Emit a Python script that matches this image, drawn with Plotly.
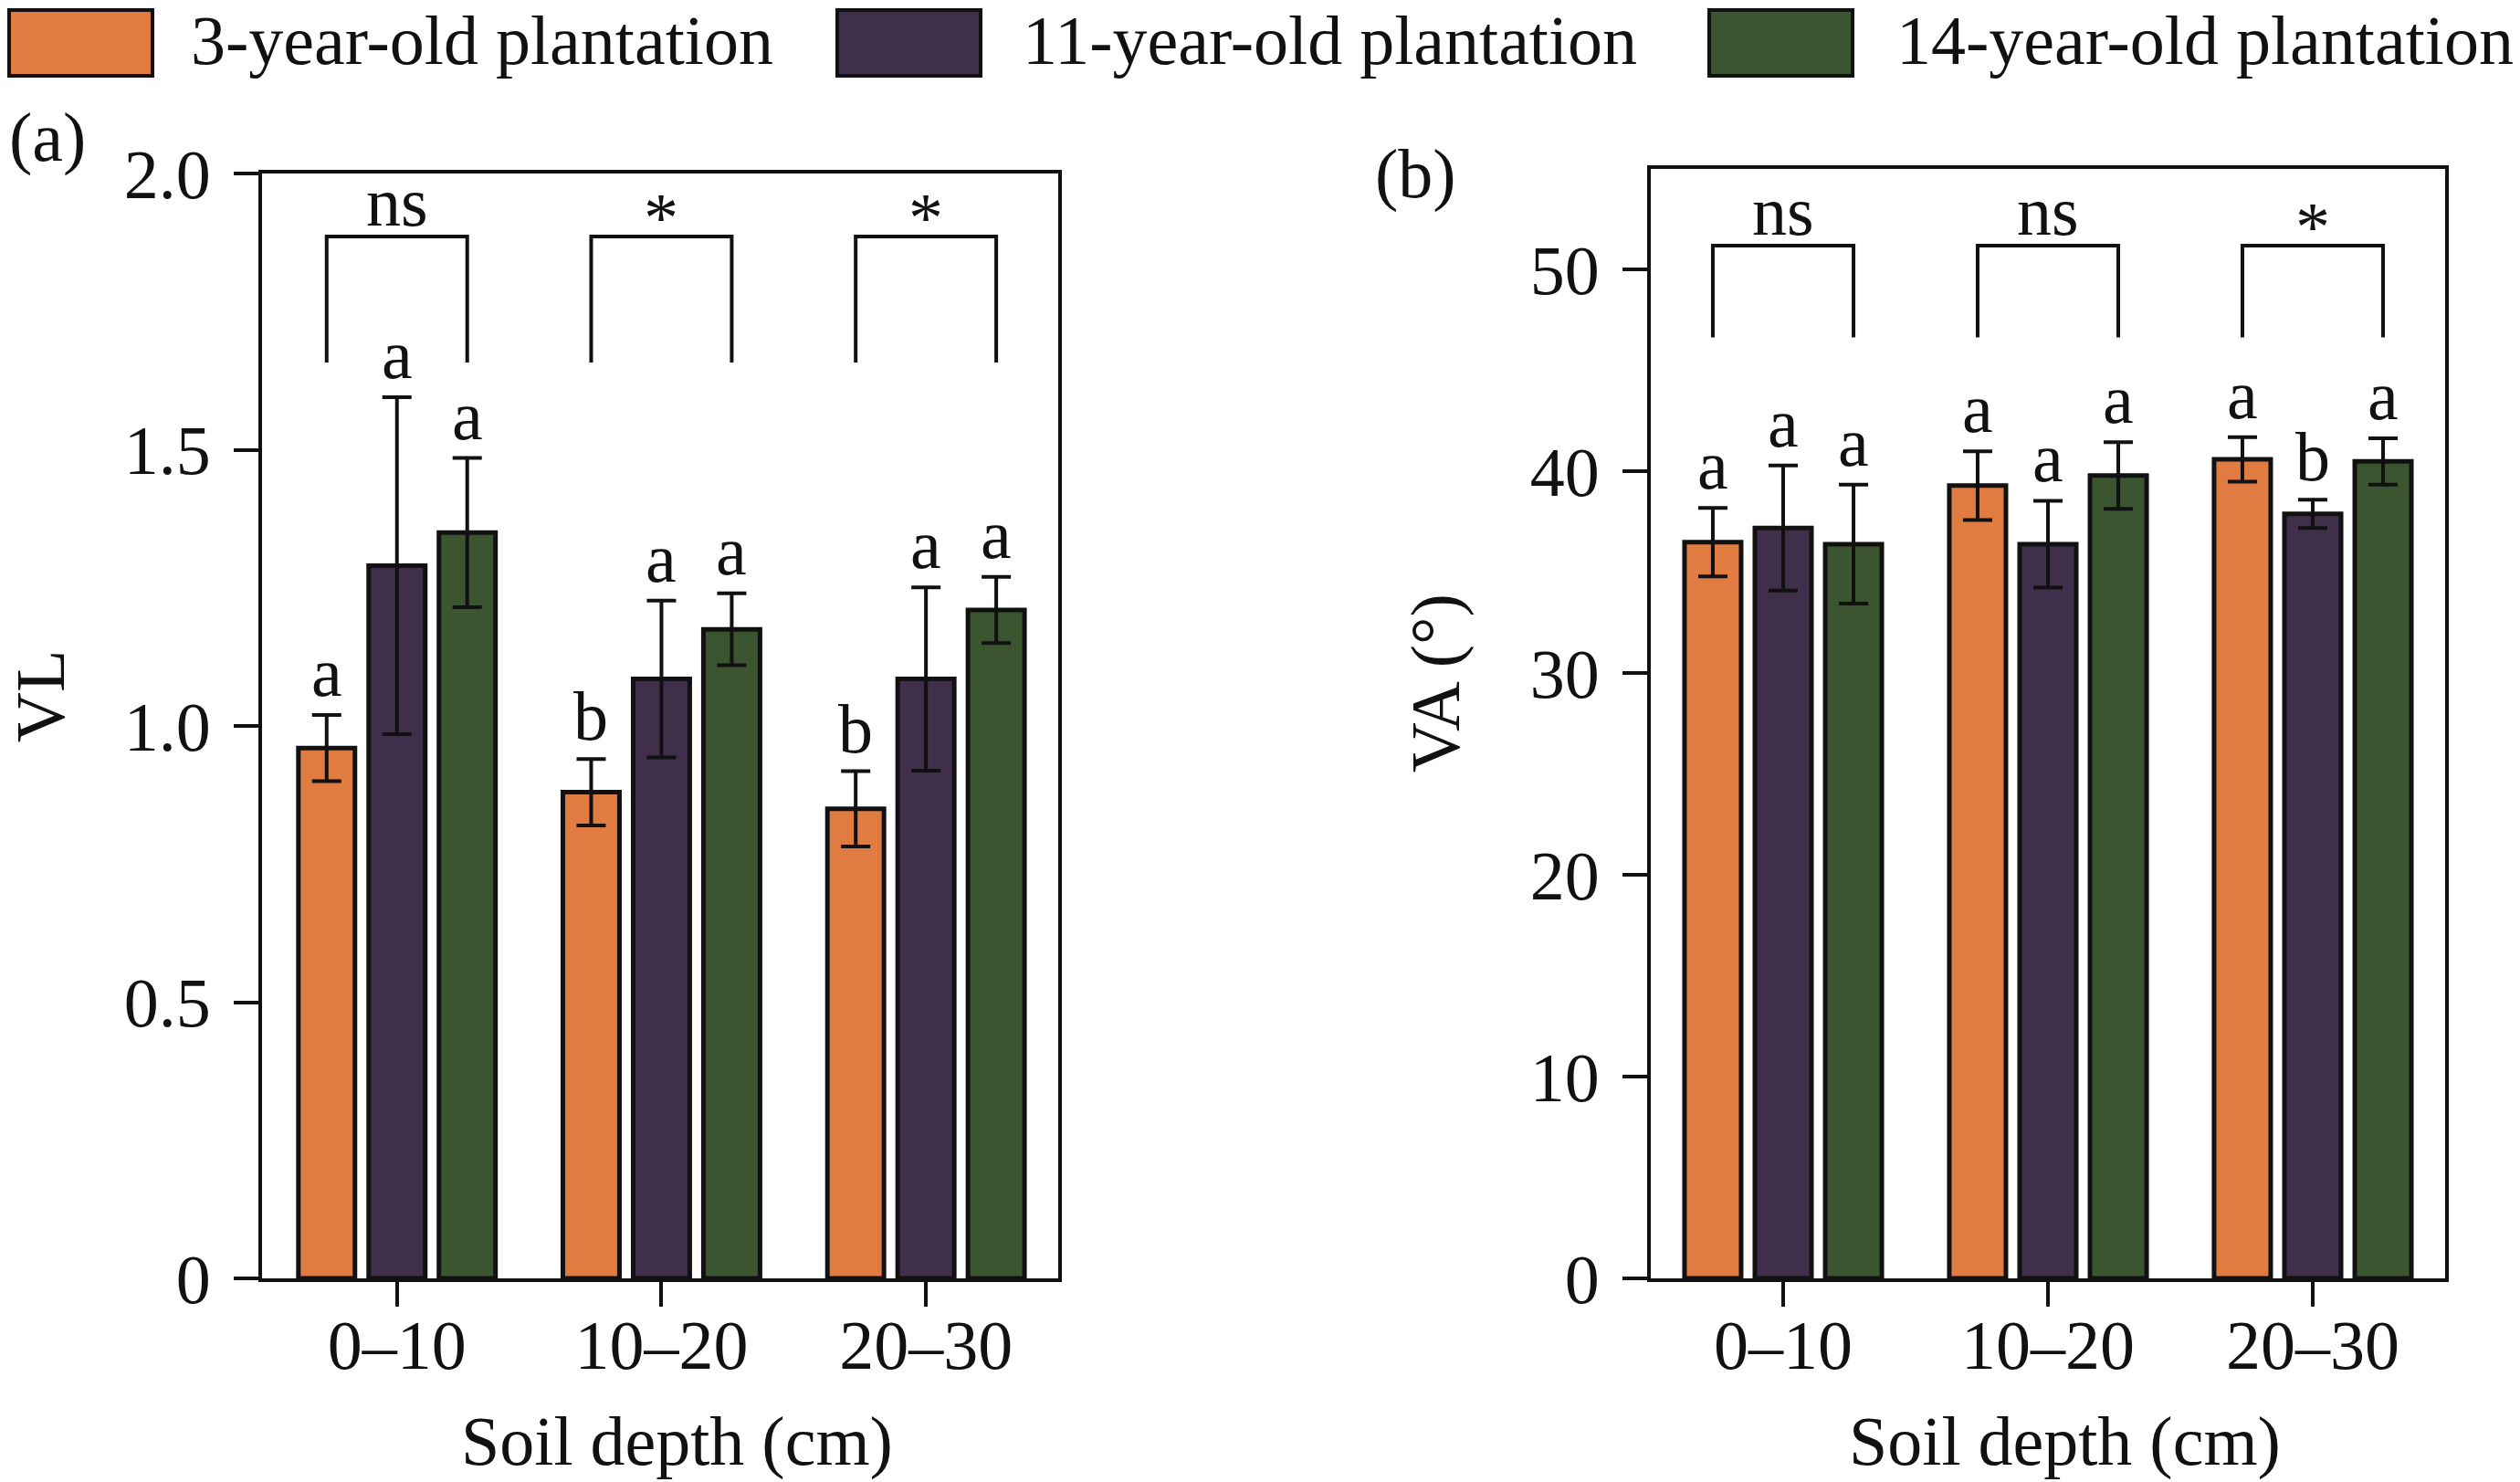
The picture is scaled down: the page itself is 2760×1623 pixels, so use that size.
import plotly.graph_objects as go

# categories and series
depths = ["0–10", "10–20", "20–30"]
series_names = ["3-year-old plantation", "11-year-old plantation", "14-year-old plantation"]
colors = ["#E07B42", "#3F2F4B", "#3B5530"]

# (a) VL means / SE / letters
vl_3yr = [0.96, 0.88, 0.85]
vl_11yr = [1.29, 1.085, 1.085]
vl_14yr = [1.35, 1.175, 1.21]
vl_3yr_err = [0.06, 0.06, 0.068]
vl_11yr_err = [0.305, 0.142, 0.166]
vl_14yr_err = [0.135, 0.065, 0.06]
vl_3yr_let = ["a", "b", "b"]
vl_11yr_let = ["a", "a", "a"]
vl_14yr_let = ["a", "a", "a"]
vl_sig = ["ns", "*", "*"]

# (b) VA means / SE / letters
va_3yr = [36.5, 39.3, 40.6]
va_11yr = [37.2, 36.4, 37.9]
va_14yr = [36.4, 39.8, 40.5]
va_3yr_err = [1.7, 1.7, 1.1]
va_11yr_err = [3.1, 2.15, 0.7]
va_14yr_err = [2.95, 1.65, 1.15]
va_3yr_let = ["a", "a", "a"]
va_11yr_let = ["a", "a", "b"]
va_14yr_let = ["a", "a", "a"]
va_sig = ["ns", "ns", "*"]

W, H = 2760, 1623
OFF = 8  # default page margin of the html body
FONT = "Liberation Serif"
FS = 76
INK = "#111111"
BARGAP = 0.203
SLOT = (1 - BARGAP) / 3


def px(v):
    return (v - OFF) / W


def py(v):
    return 1 - (v - OFF) / H


fig = go.Figure()
annotations = []
shapes = []

panels = [
    dict(xa="x", ya="y", means=[vl_3yr, vl_11yr, vl_14yr],
         errs=[vl_3yr_err, vl_11yr_err, vl_14yr_err],
         lets=[vl_3yr_let, vl_11yr_let, vl_14yr_let], sig=vl_sig,
         br_lo=1.658, br_hi=1.886),
    dict(xa="x2", ya="y2", means=[va_3yr, va_11yr, va_14yr],
         errs=[va_3yr_err, va_11yr_err, va_14yr_err],
         lets=[va_3yr_let, va_11yr_let, va_14yr_let], sig=va_sig,
         br_lo=46.65, br_hi=51.2),
]

xpos = list(range(len(depths)))

for p in panels:
    for k, name in enumerate(series_names):
        fig.add_trace(go.Bar(
            x=xpos, y=p["means"][k], name=name, xaxis=p["xa"], yaxis=p["ya"],
            marker=dict(color=colors[k], line=dict(color=INK, width=5)),
            error_y=dict(type="data", array=p["errs"][k], color=INK,
                         thickness=4, width=16),
            showlegend=False,
        ))
        for i in xpos:
            annotations.append(dict(
                x=i + (k - 1) * SLOT, y=p["means"][k][i] + p["errs"][k][i],
                xref=p["xa"], yref=p["ya"], text=p["lets"][k][i],
                showarrow=False, yanchor="bottom", yshift=3,
                font=dict(family=FONT, size=FS, color=INK),
            ))
    # significance brackets
    for i in xpos:
        fig.add_trace(go.Scatter(
            x=[i - SLOT, i - SLOT, i + SLOT, i + SLOT],
            y=[p["br_lo"], p["br_hi"], p["br_hi"], p["br_lo"]],
            xaxis=p["xa"], yaxis=p["ya"], mode="lines",
            line=dict(color=INK, width=4), showlegend=False, hoverinfo="skip",
        ))
        star = p["sig"][i] == "*"
        annotations.append(dict(
            x=i, y=p["br_hi"], xref=p["xa"], yref=p["ya"], text=p["sig"][i],
            showarrow=False, yanchor="bottom", yshift=-23 if star else -6,
            font=dict(family=FONT, size=FS, color=INK),
        ))

# manual legend (large boxes)
legend_box_x = [(2, 167), (909, 1074), (1864, 2029)]
legend_text_x = [207, 1118, 2075]
for k, name in enumerate(series_names):
    x0, x1 = legend_box_x[k]
    shapes.append(dict(type="rect", xref="paper", yref="paper",
                       x0=px(x0 + OFF), x1=px(x1), y0=py(83), y1=py(3 + OFF),
                       fillcolor=colors[k], line=dict(color=INK, width=4)))
    annotations.append(dict(x=px(legend_text_x[k]), y=py(44), xref="paper", yref="paper",
                            text=name, showarrow=False, xanchor="left", yanchor="middle",
                            font=dict(family=FONT, size=FS, color=INK)))

# panel labels, axis titles
for txt, x, ytop in [("(a)", OFF, 106), ("(b)", 1504, 146)]:
    annotations.append(dict(x=px(x), y=py(ytop), xref="paper", yref="paper", text=txt,
                            showarrow=False, xanchor="left", yanchor="top",
                            font=dict(family=FONT, size=FS, color=INK)))
for txt, x, y in [("VL", 44, 763), ("VA (°)", 1572, 748)]:
    annotations.append(dict(x=px(x), y=py(y), xref="paper", yref="paper", text=txt,
                            showarrow=False, textangle=-90, xanchor="center", yanchor="middle",
                            font=dict(family=FONT, size=FS, color=INK)))
for xa in ["x", "x2"]:
    annotations.append(dict(x=0.5, y=py(1623), xref=xa + " domain", yref="paper",
                            text="Soil depth (cm)", showarrow=False, xanchor="center",
                            yanchor="bottom", xshift=18,
                            font=dict(family=FONT, size=FS, color=INK)))

axis_common = dict(showline=True, linewidth=4, linecolor=INK, mirror=True,
                   ticks="outside", ticklen=27, tickwidth=4, tickcolor=INK,
                   showgrid=False, zeroline=False, automargin=False,
                   tickfont=dict(family=FONT, size=FS, color=INK))

fig.update_layout(
    template="none",
    width=W, height=H,
    margin=dict(l=0, r=0, t=0, b=0, pad=0, autoexpand=False),
    paper_bgcolor="white", plot_bgcolor="white",
    showlegend=False,
    barmode="group", bargap=BARGAP, bargroupgap=0.195,
    xaxis=dict(domain=[px(287), px(1159)], range=[-0.51, 2.5], anchor="y",
               tickvals=xpos, ticktext=depths, ticklabelstandoff=-23, **axis_common),
    yaxis=dict(domain=[py(1400), py(190)], range=[0, 2.0], anchor="x",
               tickvals=[0, 0.5, 1.0, 1.5, 2.0], ticktext=["0", "0.5", "1.0", "1.5", "2.0"],
               ticklabelstandoff=10, **axis_common),
    xaxis2=dict(domain=[px(1808), px(2678)], range=[-0.5, 2.5], anchor="y2",
                tickvals=xpos, ticktext=depths, ticklabelstandoff=-23, **axis_common),
    yaxis2=dict(domain=[py(1400), py(185)], range=[0, 55], anchor="x2",
                tickvals=[0, 10, 20, 30, 40, 50], ticklabelstandoff=10, **axis_common),
    annotations=annotations,
    shapes=shapes,
)

fig.write_html("out.html")
